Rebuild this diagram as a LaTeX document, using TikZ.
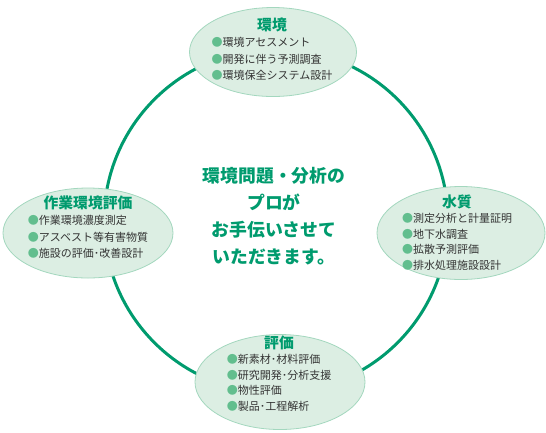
\documentclass[tikz,border=0pt]{standalone}
\usepackage{fontspec}
\setmainfont{Noto Sans CJK JP}
\usetikzlibrary{shapes.geometric,positioning}
\definecolor{ringgreen}{HTML}{009B6E}
\definecolor{fillgreen}{HTML}{DCEEE3}
\definecolor{edgegreen}{HTML}{A3D7BE}
\definecolor{dotgreen}{HTML}{62BE8E}
\definecolor{txtgray}{HTML}{333333}
\newcommand{\dotitem}[1]{{\color{dotgreen}●}#1}

\begin{document}
\begin{tikzpicture}[x=1bp,y=-1bp,
  area/.style={ellipse,draw=edgegreen,fill=fillgreen,line width=0.8bp,inner sep=0pt},
  head/.style={font=\bfseries\fontsize{14.8bp}{16bp}\selectfont,text=ringgreen,inner sep=0pt},
  items/.style={align=left,font=\fontsize{11bp}{16.5bp}\selectfont,text=txtgray,inner sep=0pt}]
\useasboundingbox (0,0) rectangle (546,432);
\draw[ringgreen,line width=3bp] (276,221) circle (172bp);
% top
\node[area,minimum width=167bp,minimum height=89bp] (kankyo) at (273,52) {};
\node[head] (kankyoT) at (272,25) {環境};
\node[items,below=5bp of kankyoT] (kankyoL) {\dotitem{環境アセスメント}\\\dotitem{開発に伴う予測調査}\\\dotitem{環境保全システム設計}};
% left
\node[area,minimum width=170bp,minimum height=90bp] (sagyo) at (88,233) {};
\node[head] (sagyoT) at (88,203) {作業環境評価};
\node[items,below=5bp of sagyoT] (sagyoL) {\dotitem{作業環境濃度測定}\\\dotitem{アスベスト等有害物質}\\\dotitem{施設の評価･改善設計}};
% right
\node[area,minimum width=168bp,minimum height=93bp] (suishitsu) at (461,233) {};
\node[head] (suishitsuT) at (457,202) {水質};
\node[items,below=4bp of suishitsuT,font=\fontsize{11bp}{15.5bp}\selectfont] (suishitsuL) {\dotitem{測定分析と計量証明}\\\dotitem{地下水調査}\\\dotitem{拡散予測評価}\\\dotitem{排水処理施設設計}};
% bottom
\node[area,minimum width=170bp,minimum height=95bp] (hyoka) at (280,382) {};
\node[head] (hyokaT) at (279,343) {評価};
\node[items,below=4bp of hyokaT,font=\fontsize{11bp}{15.5bp}\selectfont] (hyokaL) {\dotitem{新素材･材料評価}\\\dotitem{研究開発･分析支援}\\\dotitem{物性評価}\\\dotitem{製品･工程解析}};
% centre
\node[align=center,font=\bfseries\fontsize{17.8bp}{27bp}\selectfont,text=ringgreen] (msg) at (274,216)
  {環境問題・分析の\\プロが\\お手伝いさせて\\いただきます。};
\end{tikzpicture}
\end{document}
